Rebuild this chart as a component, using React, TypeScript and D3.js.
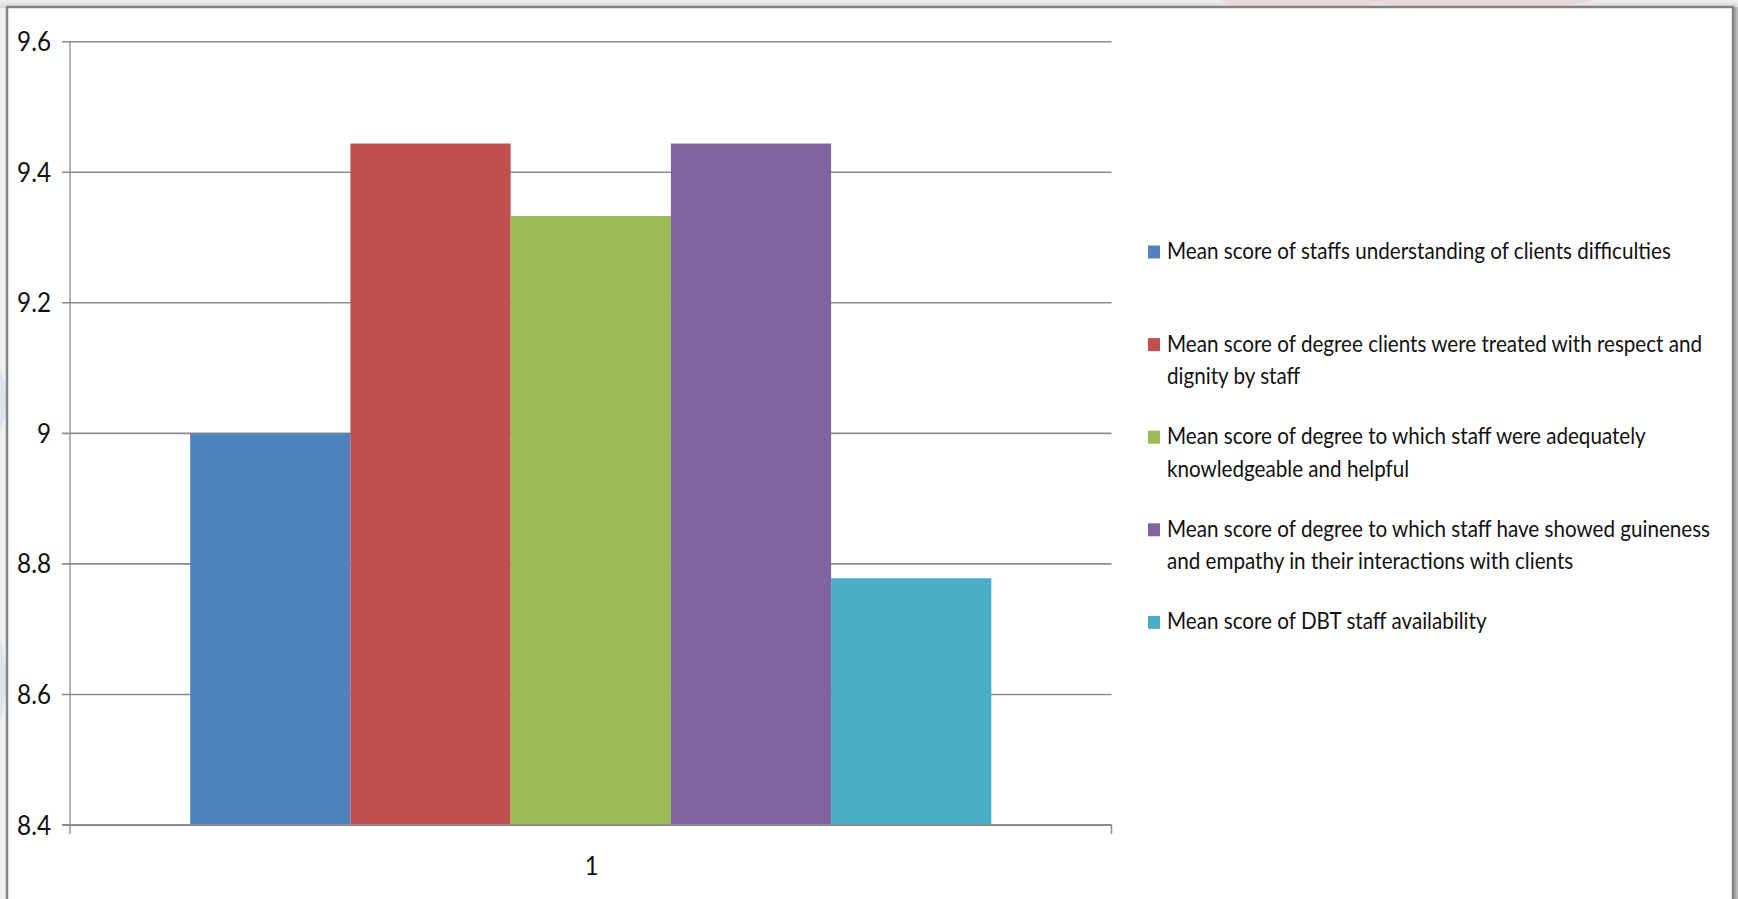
import React, { useLayoutEffect, useRef, useState } from 'react';
import * as d3 from 'd3';

const W = 1738;
const H = 899;

const categories = ['1'];
const seriesLabels: string[][] = [
  ['Mean score of staffs understanding of clients difficulties'],
  ['Mean score of degree clients were treated with respect and', 'dignity by staff'],
  ['Mean score of degree to which staff were adequately', 'knowledgeable and helpful'],
  ['Mean score of degree to which staff have showed guineness', 'and empathy in their interactions with clients'],
  ['Mean score of DBT staff availability'],
];
const seriesValues = [9.0, 9.444, 9.333, 9.444, 8.778];
const seriesColors = ['#4F81BD', '#C0504D', '#9BBB59', '#8064A2', '#4BACC6'];
const yTicks = [8.4, 8.6, 8.8, 9.0, 9.2, 9.4, 9.6];

const FONT = 'Lato, Carlito, "Open Sans", sans-serif';

export default function App() {
  const measureRef = useRef<SVGTextElement>(null);
  const [sx, setSx] = useState(0.76);

  useLayoutEffect(() => {
    const el = measureRef.current;
    if (el) {
      const len = el.getComputedTextLength();
      if (len > 0) setSx(504 / len);
    }
  }, []);

  const plotLeft = 70;
  const plotRight = 1111.5;
  const plotTop = 41.7;
  const plotBottom = 825;

  const y = d3.scaleLinear().domain([8.4, 9.6]).range([plotBottom, plotTop]);
  const x = d3.scaleBand<string>().domain(categories).range([plotLeft, plotRight]);
  const inner = d3
    .scaleBand<number>()
    .domain(d3.range(seriesValues.length))
    .range([0, x.bandwidth()])
    .paddingInner(0)
    .paddingOuter(0.75);

  const fmt = (v: number) => String(+v.toFixed(1));

  const legendX = 1148;
  const legendTextX = 1167;
  const legendTop = 259;
  const legendStep = 92.6;
  const lineH = 32.5;

  return (
    <svg
      width={W}
      height={H}
      style={{ position: 'fixed', left: 0, top: 0, display: 'block' }}
      xmlns="http://www.w3.org/2000/svg"
    >
      <defs>
        <linearGradient id="rshadow" x1="0" x2="1" y1="0" y2="0">
          <stop offset="0" stopColor="#7a7a7a" />
          <stop offset="1" stopColor="#c4c4c4" />
        </linearGradient>
        <linearGradient id="tshadow" x1="0" x2="0" y1="0" y2="1">
          <stop offset="0" stopColor="#eeeeee" />
          <stop offset="1" stopColor="#d8d8d8" />
        </linearGradient>
      </defs>

      {/* page background */}
      <rect x={0} y={0} width={W} height={H} fill="#eef0f1" />
      <rect x={0} y={0} width={W} height={8} fill="url(#tshadow)" />
      {/* faint watermark shapes */}
      <ellipse cx={1300} cy={-10} rx={90} ry={22} fill="#e9cfd3" opacity={0.7} />
      <ellipse cx={1480} cy={-14} rx={140} ry={24} fill="#e9cfd3" opacity={0.7} />
      <ellipse cx={-10} cy={400} rx={16} ry={40} fill="#dde5ea" />
      <ellipse cx={-8} cy={680} rx={14} ry={50} fill="#dde5ea" />

      {/* chart frame */}
      <rect x={7} y={7} width={1726} height={H} fill="#ffffff" stroke="#838383" strokeWidth={2.5} />
      <rect x={1732} y={7} width={6} height={H} fill="url(#rshadow)" />

      {/* gridlines + y ticks */}
      {yTicks.map((t) => (
        <line
          key={'g' + t}
          x1={62}
          x2={plotRight}
          y1={y(t)}
          y2={y(t)}
          stroke="#8c8c8c"
          strokeWidth={1.6}
        />
      ))}

      {/* bars */}
      {categories.map((c) =>
        seriesValues.map((v, i) => (
          <rect
            key={c + i}
            x={(x(c) as number) + (inner(i) as number)}
            y={y(v)}
            width={inner.bandwidth()}
            height={plotBottom - y(v)}
            fill={seriesColors[i]}
          />
        ))
      )}

      {/* axes */}
      <line x1={plotLeft} x2={plotLeft} y1={plotTop} y2={834} stroke="#8c8c8c" strokeWidth={1.3} />
      <line x1={62} x2={plotRight} y1={plotBottom} y2={plotBottom} stroke="#8c8c8c" strokeWidth={1.8} />
      <line x1={plotRight} x2={plotRight} y1={plotBottom} y2={834} stroke="#8c8c8c" strokeWidth={1.5} />

      {/* y tick labels */}
      {yTicks.map((t) => (
        <text
          key={'l' + t}
          transform={`translate(51,${y(t) + 9.5}) scale(${sx},1)`}
          textAnchor="end"
          fontFamily={FONT}
          fontSize={26.5}
          fill="#111"
        >
          {fmt(t)}
        </text>
      ))}

      {/* x category labels */}
      {categories.map((c) => (
        <text
          key={'c' + c}
          transform={`translate(${(x(c) as number) + x.bandwidth() / 2 + 1},875) scale(${sx},1)`}
          textAnchor="middle"
          fontFamily={FONT}
          fontSize={26}
          fill="#111"
        >
          {c}
        </text>
      ))}

      {/* legend */}
      {seriesLabels.map((lines, i) => {
        const by = legendTop + i * legendStep;
        return (
          <g key={'lg' + i}>
            <rect x={legendX} y={by - 13.5} width={12} height={13} fill={seriesColors[i]} />
            {lines.map((ln, j) => (
              <text
                key={j}
                transform={`translate(${legendTextX},${by + j * lineH}) scale(${sx},1)`}
                fontFamily={FONT}
                fontSize={22.5}
                fill="#111"
              >
                {ln}
              </text>
            ))}
          </g>
        );
      })}

      {/* hidden measuring text */}
      <text
        ref={measureRef}
        x={0}
        y={-100}
        fontFamily={FONT}
        fontSize={22.5}
        opacity={0}
      >
        {seriesLabels[0][0]}
      </text>
    </svg>
  );
}
